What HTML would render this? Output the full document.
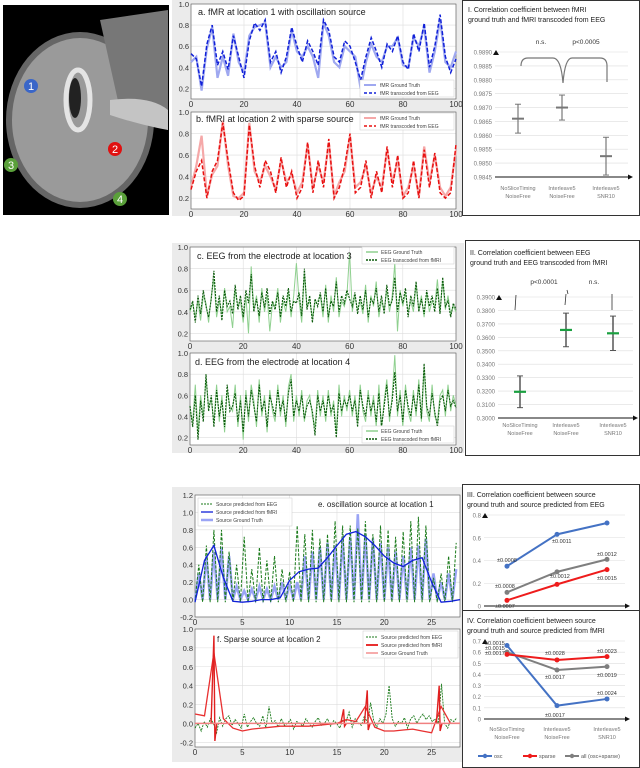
<!DOCTYPE html>
<html><head><meta charset="utf-8"><style>
body{margin:0;background:#fff;width:640px;height:768px;overflow:hidden}
svg{display:block;font-family:"Liberation Sans",sans-serif}
</style></head><body>
<svg id="c" width="640" height="768" viewBox="0 0 640 768">
<g>
<rect x="3" y="5" width="166" height="210" fill="#000"/>
<ellipse cx="80" cy="120" rx="74" ry="88" fill="#666"/>
<ellipse cx="80" cy="120" rx="68" ry="82" fill="#9a9a9a"/>
<path d="M100 20 L168 10 L168 130 L120 110 Z" fill="#777"/>
<path d="M110 100 Q150 95 168 110 L168 130 Q140 125 110 115Z" fill="#c4c4c4"/>
<ellipse cx="78" cy="100" rx="12" ry="30" fill="none" stroke="#e4e4e4" stroke-width="5"/>
<ellipse cx="75" cy="98" rx="6" ry="20" fill="#222"/>
<circle cx="31" cy="86" r="7" fill="#3a66c8"/>
<text x="31" y="90" fill="#fff" font-size="11" text-anchor="middle">1</text>
<circle cx="115" cy="149" r="7" fill="#e01010"/>
<text x="115" y="153" fill="#fff" font-size="11" text-anchor="middle">2</text>
<circle cx="11" cy="165" r="7" fill="#5aa03a"/>
<text x="11" y="169" fill="#fff" font-size="11" text-anchor="middle">3</text>
<circle cx="120" cy="199" r="7" fill="#5aa03a"/>
<text x="120" y="203" fill="#fff" font-size="11" text-anchor="middle">4</text>
</g>
<rect x="172" y="0" width="292" height="216" fill="#ebebeb"/>
<rect x="172" y="243" width="292" height="210" fill="#ebebeb"/>
<rect x="172" y="487" width="292" height="275" fill="#ebebeb"/>
<rect x="462.5" y="0.5" width="177" height="215" fill="#fff" stroke="#333"/>
<rect x="465.5" y="240.5" width="174" height="215" fill="#fff" stroke="#333"/>
<rect x="462.5" y="484.5" width="177" height="126" fill="#fff" stroke="#333"/>
<rect x="462.5" y="610.5" width="177" height="157" fill="#fff" stroke="#333"/>
<g id="g"></g>
</svg>
<script>
// ---- data ----
const fmriA_pred=[0.53,0.48,0.22,0.62,0.8,0.42,0.55,0.38,0.7,0.5,0.3,0.65,0.82,0.75,0.85,0.45,0.55,0.35,0.5,0.78,0.6,0.45,0.65,0.55,0.42,0.85,0.75,0.5,0.45,0.65,0.6,0.45,0.28,0.5,0.68,0.55,0.4,0.62,0.55,0.7,0.45,0.38,0.72,0.55,0.82,0.4,0.6,0.9,0.5,0.35,0.48];
const fmriA_true=[0.45,0.5,0.18,0.58,0.78,0.3,0.5,0.32,0.72,0.45,0.35,0.7,0.78,0.8,0.82,0.4,0.5,0.4,0.45,0.75,0.55,0.5,0.6,0.5,0.3,0.82,0.7,0.45,0.4,0.6,0.55,0.5,0.2,0.45,0.62,0.5,0.45,0.6,0.6,0.68,0.42,0.4,0.68,0.6,0.78,0.35,0.55,0.85,0.45,0.4,0.55];
const fmriB_pred=[0.28,0.45,0.55,0.2,0.45,0.55,0.9,0.55,0.25,0.18,0.22,0.88,0.5,0.3,0.55,0.45,0.25,0.58,0.3,0.45,0.2,0.3,0.72,0.25,0.55,0.3,0.75,0.2,0.3,0.5,0.8,0.25,0.3,0.55,0.2,0.45,0.25,0.68,0.3,0.6,0.2,0.25,0.55,0.2,0.65,0.3,0.62,0.25,0.2,0.25,0.7];
const fmriB_true=[0.3,0.5,0.78,0.22,0.42,0.5,0.92,0.5,0.22,0.2,0.25,0.9,0.45,0.35,0.5,0.4,0.28,0.55,0.35,0.42,0.25,0.35,0.7,0.3,0.5,0.35,0.72,0.22,0.35,0.45,0.78,0.3,0.35,0.5,0.25,0.4,0.3,0.65,0.35,0.55,0.22,0.3,0.5,0.22,0.68,0.35,0.6,0.3,0.22,0.3,0.65];
const eegC_pred=[0.42,0.5,0.3,0.55,0.38,0.6,0.45,0.35,0.52,0.78,0.4,0.55,0.32,0.6,0.45,0.5,0.38,0.65,0.42,0.55,0.35,0.6,0.48,0.75,0.4,0.52,0.36,0.58,0.44,0.62,0.38,0.5,0.42,0.58,0.35,0.55,0.45,0.62,0.4,0.5,0.48,0.58,0.36,0.8,0.42,0.55,0.3,0.52,0.45,0.58,0.4,0.62,0.35,0.5,0.45,0.68,0.4,0.55,0.48,0.6,0.52,0.45,0.58,0.38,0.55,0.42,0.6,0.35,0.52,0.48,0.62,0.4,0.55,0.38,0.65,0.45,0.5,0.72,0.4,0.58,0.48,0.62,0.35,0.55,0.45,0.68,0.4,0.52,0.38,0.6,0.45,0.55,0.4,0.62,0.38,0.72,0.45,0.5,0.35,0.48,0.42];
const eegC_true=[0.4,0.48,0.35,0.5,0.32,0.55,0.48,0.3,0.55,0.7,0.35,0.5,0.38,0.62,0.4,0.45,0.25,0.6,0.45,0.5,0.3,0.55,0.2,0.82,0.42,0.55,0.3,0.62,0.4,0.55,0.22,0.48,0.45,0.62,0.3,0.5,0.4,0.58,0.35,0.55,0.85,0.5,0.3,0.75,0.45,0.5,0.35,0.48,0.5,0.55,0.35,0.65,0.3,0.55,0.4,0.72,0.35,0.5,0.45,0.55,0.95,0.4,0.55,0.42,0.5,0.38,0.65,0.3,0.55,0.45,0.68,0.35,0.5,0.42,0.6,0.4,0.55,0.85,0.22,0.6,0.45,0.58,0.4,0.5,0.4,0.65,0.42,0.55,0.35,0.58,0.4,0.5,0.45,0.7,0.4,0.68,0.42,0.55,0.38,0.45,0.4];
const eegD_pred=[0.5,0.3,0.6,0.18,0.55,0.35,0.8,0.45,0.6,0.3,0.65,0.4,0.55,0.3,0.7,0.45,0.5,0.62,0.35,0.55,0.25,0.6,0.4,0.65,0.5,0.35,0.7,0.45,0.55,0.3,0.6,0.5,0.4,0.65,0.45,0.55,0.35,0.62,0.75,0.4,0.55,0.45,0.6,0.38,0.5,0.55,0.45,0.22,0.6,0.45,0.55,0.4,0.6,0.45,0.5,0.2,0.62,0.45,0.55,0.5,0.6,0.45,0.55,0.3,0.65,0.5,0.4,0.6,0.45,0.55,0.35,0.62,0.3,0.5,0.7,0.4,0.55,0.82,0.45,0.6,0.35,0.65,0.5,0.4,0.6,0.45,0.7,0.38,0.9,0.5,0.4,0.62,0.45,0.3,0.55,0.6,0.45,0.65,0.5,0.55,0.48];
const eegD_true=[0.45,0.35,0.7,0.25,0.6,0.4,0.75,0.5,0.55,0.35,0.7,0.35,0.6,0.25,0.65,0.5,0.45,0.7,0.3,0.6,0.18,0.65,0.35,0.7,0.55,0.3,0.75,0.4,0.6,0.25,0.65,0.45,0.35,0.7,0.4,0.6,0.3,0.68,0.8,0.35,0.6,0.4,0.65,0.35,0.55,0.6,0.4,0.3,0.65,0.4,0.6,0.35,0.65,0.4,0.55,0.25,0.7,0.4,0.6,0.45,0.65,0.4,0.6,0.35,0.7,0.45,0.35,0.65,0.4,0.6,0.3,0.7,0.28,0.55,0.75,0.35,0.6,0.98,0.4,0.65,0.3,0.7,0.45,0.35,0.65,0.4,0.75,0.35,0.85,0.45,0.35,0.7,0.4,0.35,0.6,0.65,0.4,0.7,0.45,0.6,0.5];
const srcE_truePeaks=[0.3,0.5,0.55,0.6,0.5,0.15,0.1,0.12,0.15,0.12,0.15,0.2,0.18,0.2,0.5,0.55,0.6,0.65,0.62,0.7,0.72,0.98,0.75,0.7,0.65,0.6,0.55,0.5,0.6,0.62,0.7,0.3,0.2,0.3,0.35];
const srcE_eegPeaks=[0.4,0.62,0.8,0.8,0.55,0.4,0.72,0.35,0.6,0.45,0.5,0.35,0.32,0.85,0.75,0.8,0.7,0.75,0.9,0.85,0.85,0.82,0.9,0.75,0.85,0.8,0.72,0.78,0.9,0.95,0.85,0.25,0.3,0.5,0.65];
const srcE_fmri=[-0.03,0.45,0.62,0.25,-0.02,-0.03,-0.02,0.0,0.0,0.02,0.22,0.32,0.35,0.36,0.48,0.62,0.75,0.78,0.72,0.62,0.5,0.42,0.38,0.45,0.48,0.2,-0.03,-0.02,0.0];
const srcF_spikeX=[2.0,15.7,18.2,25.8];
const srcF_spikeV=[0.93,0.15,0.35,0.4];
const srcF_fmri=[0.1,0.08,0.75,0.05,-0.05,-0.08,-0.06,-0.05,-0.04,-0.03,-0.03,-0.03,-0.03,-0.02,-0.01,0.0,0.04,0.02,0.18,-0.04,-0.08,-0.08,-0.07,-0.06,-0.08,-0.1,0.18,0.0,0.0];
const srcF_eeg=[-0.05,0.0,-0.08,0.02,-0.04,0.05,0.0,-0.1,0.06,-0.03,0.05,0.08,-0.02,0.04,0.0,-0.05,0.1,-0.04,0.02,0.06,0.0,-0.03,0.08,-0.05,0.18,0.0,0.03,-0.04,0.05,-0.02,0.0,0.04,-0.06,0.02,0.0,-0.03,0.05,0.0,-0.04,0.02,0.06,-0.02,0.0,0.05,-0.03,0.03,0.0,-0.05,0.04,0.02,0.12,-0.04,0.05,0.0,-0.02,0.08,0.0,0.22,0.03,-0.04,0.05,0.0,0.1,0.4,0.05,-0.03,0.02,0.0,0.06,-0.05,0.05,0.08,0.0,0.06,0.1,0.04,0.08,0.02,0.05,0.0,0.42,0.0,-0.05,0.04,0.02,0.06];
const catLabels1=["NoSliceTiming","Interleave5","Interleave5"];
const catLabels2=["NoiseFree","NoiseFree","SNR10"];
const p1Mean=[0.9866,0.9870,0.98525], p1Err=[0.00052,0.00045,0.00068];
const p1Ticks=[0.9845,0.985,0.9855,0.986,0.9865,0.987,0.9875,0.988,0.9885,0.989];
const p2Mean=[0.3195,0.3655,0.3630], p2Err=[0.0118,0.0125,0.0128];
const p2Ticks=[0.30,0.31,0.32,0.33,0.34,0.35,0.36,0.37,0.38,0.39];
const p3Osc=[0.35,0.63,0.73], p3Sparse=[0.05,0.19,0.32], p3All=[0.12,0.30,0.41];
const p3Ticks=[0,0.2,0.4,0.6,0.8];
const p4Osc=[0.66,0.12,0.18], p4Sparse=[0.58,0.53,0.56], p4All=[0.60,0.44,0.47];
const p4Ticks=[0,0.1,0.2,0.3,0.4,0.5,0.6,0.7];

// ---- helpers ----
const NS="http://www.w3.org/2000/svg", G=document.getElementById('g');
function el(t,a,p){const e=document.createElementNS(NS,t);for(const k in a)e.setAttribute(k,a[k]);(p||G).appendChild(e);return e;}
function txt(x,y,s,sz,fill,anchor,name){const e=el('text',{x:x,y:y,'font-size':sz,fill:fill||'#222','text-anchor':anchor||'start'});e.textContent=s;

return e;}
function lin(d0,d1,r0,r1){return v=>r0+(v-d0)/(d1-d0)*(r1-r0);}
function poly(xs,ys,sx,sy,attrs,name){const e=el('polyline',Object.assign({points:xs.map((x,i)=>sx(x).toFixed(1)+','+sy(ys[i]).toFixed(1)).join(' '),fill:'none'},attrs));

return e;}
function mplAxes(x0,x1,y0,y1,xd,yd,xt,yt,name){
  el('rect',{x:x0,y:y0,width:x1-x0,height:y1-y0,fill:'#fff'});
  const sx=lin(xd[0],xd[1],x0,x1), sy=lin(yd[0],yd[1],y1,y0);
  xt.forEach(t=>{el('line',{x1:sx(t),x2:sx(t),y1:y0,y2:y1,stroke:'#ddd','stroke-width':0.6});txt(sx(t),y1+8,String(t),8,'#333','middle','x-tick');});
  yt.forEach(t=>{el('line',{x1:x0,x2:x1,y1:sy(t),y2:sy(t),stroke:'#ddd','stroke-width':0.6});txt(x0-2,sy(t)+3,t.toFixed(1),7.5,'#333','end','y-tick');});
  const r=el('rect',{x:x0,y:y0,width:x1-x0,height:y1-y0,fill:'none',stroke:'#555','stroke-width':0.6});
  
  
  return {sx,sy};
}
const rng=(n,step)=>Array.from({length:n},(_,i)=>i*step);

// ---- panel a ----
let A=mplAxes(191,456,4,99,[0,100],[0.1,1.0],[0,20,40,60,80,100],[0.2,0.4,0.6,0.8,1.0],'panel-a-axes');
poly(rng(fmriA_true.length,2),fmriA_true,A.sx,A.sy,{stroke:'#9fa8f0','stroke-width':2.2},'fmri-a-ground-truth');
poly(rng(fmriA_pred.length,2),fmriA_pred,A.sx,A.sy,{stroke:'#1020d8','stroke-width':1.5,'stroke-dasharray':'4 2'},'fmri-a-transcoded');
txt(198,15,'a. fMR  at location  1 with oscillation source',9,'#222','start','panel-a-title');
el('rect',{x:360,y:80,width:94,height:17,fill:'#fff',stroke:'#ccc','stroke-width':0.5});
el('line',{x1:364,x2:376,y1:85,y2:85,stroke:'#9fa8f0','stroke-width':2});txt(380,87,'fMR  Ground Truth',5,'#444','start','legend-entry');
el('line',{x1:364,x2:376,y1:93,y2:93,stroke:'#1020d8','stroke-width':1.5,'stroke-dasharray':'3 2'});txt(380,95,'fMR  transcoded from EEG',5,'#444','start','legend-entry');

// ---- panel b ----
let B=mplAxes(191,456,112,209,[0,100],[0.1,1.0],[0,20,40,60,80,100],[0.2,0.4,0.6,0.8,1.0],'panel-b-axes');
poly(rng(fmriB_true.length,2),fmriB_true,B.sx,B.sy,{stroke:'#f5a8a8','stroke-width':2.2},'fmri-b-ground-truth');
poly(rng(fmriB_pred.length,2),fmriB_pred,B.sx,B.sy,{stroke:'#e81010','stroke-width':1.5,'stroke-dasharray':'4 2'},'fmri-b-transcoded');
txt(196,122,'b. fMRI at location 2 with sparse source',9,'#222','start','panel-b-title');
el('rect',{x:360,y:113,width:94,height:17,fill:'#fff',stroke:'#ccc','stroke-width':0.5});
el('line',{x1:364,x2:376,y1:118,y2:118,stroke:'#f5a8a8','stroke-width':2});txt(380,120,'fMR  Ground Truth',5,'#444','start','legend-entry');
el('line',{x1:364,x2:376,y1:126,y2:126,stroke:'#e81010','stroke-width':1.5,'stroke-dasharray':'3 2'});txt(380,128,'fMR  transcoded from EEG',5,'#444','start','legend-entry');

// ---- panel c,d ----
let C=mplAxes(190,456,247,341,[0,100],[0.13,1.0],[0,20,40,60,80,100],[0.2,0.4,0.6,0.8,1.0],'panel-c-axes');
poly(rng(eegC_true.length,1),eegC_true,C.sx,C.sy,{stroke:'#8fd08f','stroke-width':1},'eeg-c-ground-truth');
poly(rng(eegC_pred.length,1),eegC_pred,C.sx,C.sy,{stroke:'#0a5a0a','stroke-width':1.1,'stroke-dasharray':'2 1'},'eeg-c-transcoded');
txt(197,259,'c. EEG from the electrode at location 3',9,'#222','start','panel-c-title');
el('rect',{x:362,y:247,width:92,height:17,fill:'#fff',stroke:'#ccc','stroke-width':0.5});
el('line',{x1:366,x2:378,y1:252,y2:252,stroke:'#8fd08f','stroke-width':1.5});txt(381,254,'EEG Ground Truth',5,'#444','start','legend-entry');
el('line',{x1:366,x2:378,y1:260,y2:260,stroke:'#0a5a0a','stroke-width':1.5,'stroke-dasharray':'2 1'});txt(381,262,'EEG transcoded from fMRI',5,'#444','start','legend-entry');
let D=mplAxes(190,456,353,445,[0,100],[0.13,1.0],[0,20,40,60,80,100],[0.2,0.4,0.6,0.8,1.0],'panel-d-axes');
poly(rng(eegD_true.length,1),eegD_true,D.sx,D.sy,{stroke:'#8fd08f','stroke-width':1},'eeg-d-ground-truth');
poly(rng(eegD_pred.length,1),eegD_pred,D.sx,D.sy,{stroke:'#0a5a0a','stroke-width':1.1,'stroke-dasharray':'2 1'},'eeg-d-transcoded');
txt(195,365,'d. EEG from the electrode at  location 4',9,'#222','start','panel-d-title');
el('rect',{x:362,y:426,width:92,height:17,fill:'#fff',stroke:'#ccc','stroke-width':0.5});
el('line',{x1:366,x2:378,y1:431,y2:431,stroke:'#8fd08f','stroke-width':1.5});txt(381,433,'EEG Ground Truth',5,'#444','start','legend-entry');
el('line',{x1:366,x2:378,y1:439,y2:439,stroke:'#0a5a0a','stroke-width':1.5,'stroke-dasharray':'2 1'});txt(381,441,'EEG transcoded from fMRI',5,'#444','start','legend-entry');

// ---- panel e ----
let E=mplAxes(195,460,495,617,[0,28],[-0.2,1.2],[0,5,10,15,20,25],[-0.2,0.0,0.2,0.4,0.6,0.8,1.0,1.2],'panel-e-axes');
function spikeSeries(peaks,base){const xs=[],ys=[];peaks.forEach((p,i)=>{xs.push(i*0.8);ys.push(base);xs.push(i*0.8+0.4);ys.push(p);});return [xs,ys];}
let se=spikeSeries(srcE_truePeaks,0);
poly(se[0],se[1],E.sx,E.sy,{stroke:'#9aa4f5','stroke-width':2.5},'source-e-ground-truth');
let sp=spikeSeries(srcE_eegPeaks,-0.03);
poly(sp[0],sp[1],E.sx,E.sy,{stroke:'#1a7a1a','stroke-width':1,'stroke-dasharray':'3 1.5'},'source-e-eeg-predicted');
poly(rng(srcE_fmri.length,1),srcE_fmri,E.sx,E.sy,{stroke:'#1020d8','stroke-width':1.3},'source-e-fmri-predicted');
el('rect',{x:198,y:498,width:94,height:28,fill:'#fff','fill-opacity':0.9,stroke:'#ccc','stroke-width':0.5});
el('line',{x1:201,x2:213,y1:504,y2:504,stroke:'#1a7a1a','stroke-width':1,'stroke-dasharray':'2 1'});txt(216,506,'Source predicted from EEG',5,'#444','start','legend-entry');
el('line',{x1:201,x2:213,y1:512,y2:512,stroke:'#1020d8','stroke-width':1.3});txt(216,514,'Source predicted from fMRI',5,'#444','start','legend-entry');
el('line',{x1:201,x2:213,y1:520,y2:520,stroke:'#9aa4f5','stroke-width':2.5});txt(216,522,'Source Ground Truth',5,'#444','start','legend-entry');
txt(318,507,'e. oscillation source at location 1',8,'#222','start','panel-e-title');

// ---- panel f ----
let F=mplAxes(195,460,629,747,[0,28],[-0.25,1.0],[0,5,10,15,20,25],[-0.2,0.0,0.2,0.4,0.6,0.8,1.0],'panel-f-axes');
poly(rng(srcF_eeg.length,28/srcF_eeg.length),srcF_eeg,F.sx,F.sy,{stroke:'#1a7a1a','stroke-width':0.9,'stroke-dasharray':'2 1'},'source-f-eeg-predicted');
poly(rng(srcF_fmri.length,1),srcF_fmri,F.sx,F.sy,{stroke:'#e83030','stroke-width':1.3},'source-f-fmri-predicted');
srcF_spikeX.forEach((x,i)=>{const l=el('polyline',{points:[[x-0.3,0],[x,srcF_spikeV[i]],[x+0.1,-0.2*srcF_spikeV[i]],[x+0.3,0]].map(p=>F.sx(p[0])+','+F.sy(p[1])).join(' '),fill:'none',stroke:'#e02020','stroke-width':1.4});

});
el('line',{x1:F.sx(0),x2:F.sx(28),y1:F.sy(0),y2:F.sy(0),stroke:'#f08080','stroke-width':1.5});
txt(217,642,'f. Sparse source at location 2',8,'#222','start','panel-f-title');
el('rect',{x:363,y:631,width:95,height:27,fill:'#fff',stroke:'#ccc','stroke-width':0.5});
el('line',{x1:366,x2:378,y1:637,y2:637,stroke:'#1a7a1a','stroke-width':1,'stroke-dasharray':'2 1'});txt(381,639,'Source predicted from EEG',5,'#444','start','legend-entry');
el('line',{x1:366,x2:378,y1:645,y2:645,stroke:'#e83030','stroke-width':2});txt(381,647,'Source predicted from fMRI',5,'#444','start','legend-entry');
el('line',{x1:366,x2:378,y1:653,y2:653,stroke:'#f08080','stroke-width':1.3});txt(381,655,'Source Ground Truth',5,'#444','start','legend-entry');

// ---- category axes ----
function catAxes(ax0,ax1,cx,ytop,ybot,d0,d1,ticks,fmt,lblY){
  const sy=lin(d0,d1,ybot,ytop);
  ticks.forEach(t=>{el('line',{x1:ax0,x2:ax1,y1:sy(t),y2:sy(t),stroke:'#ddd','stroke-width':0.6});txt(ax0-3,sy(t)+2.5,fmt(t),6,'#777','end','y-tick');});
  el('line',{x1:ax0,x2:ax1,y1:ybot,y2:ybot,stroke:'#111','stroke-width':1});
  el('path',{d:`M${ax1} ${ybot-2.5}L${ax1+5} ${ybot}L${ax1} ${ybot+2.5}Z`,fill:'#111'});
  el('path',{d:`M${ax0-2} ${ytop+3}L${ax0+1} ${ytop-2}L${ax0+4} ${ytop+3}Z`,fill:'#111'});
  if(lblY) cx.forEach((x,i)=>{txt(x,lblY,catLabels1[i],5.5,'#777','middle','x-category');txt(x,lblY+8,catLabels2[i],5.5,'#777','middle','x-category');});
  return sy;
}
// ---- panel I ----
txt(468,12,'I. Correlation coefficient between fMRI',7,'#222','start','panel-i-title');
txt(468,22,'ground truth and fMRI transcoded from EEG',7,'#222','start','panel-i-title');
const c1=[518,562,606];
let s1=catAxes(495,628,c1,52,177,0.9845,0.989,p1Ticks,t=>t.toFixed(4),190);
p1Mean.forEach((m,i)=>{el('line',{x1:c1[i],x2:c1[i],y1:s1(m+p1Err[i]),y2:s1(m-p1Err[i]),stroke:'#777','stroke-width':1.2});
[1,-1].forEach(sg=>el('line',{x1:c1[i]-3,x2:c1[i]+3,y1:s1(m+sg*p1Err[i]),y2:s1(m+sg*p1Err[i]),stroke:'#777'}));
const b=el('line',{x1:c1[i]-6,x2:c1[i]+6,y1:s1(m),y2:s1(m),stroke:'#777','stroke-width':2});

});
el('path',{d:'M521 66 Q521 58 528 58 L553 58 Q561 58 563 83 Q565 58 572 58 L600 58 Q607 58 607 66 L607 82',fill:'none',stroke:'#777','stroke-width':1.2});
txt(541,44,'n.s.',6.5,'#333','middle','significance-ns');txt(586,44,'p<0.0005',6.5,'#333','middle','significance-p');

// ---- panel II ----
txt(470,255,'II. Correlation coefficient between EEG',7,'#222','start','panel-ii-title');
txt(470,265,'ground truth and EEG transcoded from fMRI',7,'#222','start','panel-ii-title');
const c2=[520,566,613];
let s2=catAxes(498,633,c2,297,418,0.30,0.39,p2Ticks,t=>t.toFixed(4),427);
p2Mean.forEach((m,i)=>{el('line',{x1:c2[i],x2:c2[i],y1:s2(m+p2Err[i]),y2:s2(m-p2Err[i]),stroke:'#555','stroke-width':1.5});
[1,-1].forEach(sg=>el('line',{x1:c2[i]-3,x2:c2[i]+3,y1:s2(m+sg*p2Err[i]),y2:s2(m+sg*p2Err[i]),stroke:'#555'}));
const b=el('line',{x1:c2[i]-6,x2:c2[i]+6,y1:s2(m),y2:s2(m),stroke:'#1aa040','stroke-width':2.2});

});
el('path',{d:'M515 310 L516 295 M565 305 L566 294 M568 294 L567 290 M612 310 L612 294',fill:'none',stroke:'#333','stroke-width':0.8});
txt(544,284,'p<0.0001',6.5,'#333','middle','significance-p');txt(594,284,'n.s.',6.5,'#333','middle','significance-ns');

// ---- panel III ----
txt(467,497,'III. Correlation coefficient between source',7,'#222','start','panel-iii-title');
txt(467,507,'ground truth and source predicted from EEG',7,'#222','start','panel-iii-title');
const c3=[507,557,607];
let s3=catAxes(484,625,c3,515,606,0,0.8,p3Ticks,t=>String(t),null);
function series(vals,sy,col,name){const e=el('polyline',{points:vals.map((v,i)=>c3[i]+','+sy(v)).join(' '),fill:'none',stroke:col,'stroke-width':2});


vals.forEach((v,i)=>el('circle',{cx:c3[i],cy:sy(v),r:2.5,fill:col}));}
series(p3Osc,s3,'#4472c4','panel-iii-osc-line');series(p3All,s3,'#7f7f7f','panel-iii-all-line');series(p3Sparse,s3,'#ee1c1c','panel-iii-sparse-line');
[['±0.0008',497,562],['±0.0011',552,543],['±0.0012',597,556],['±0.0012',550,578],['±0.0015',597,580],['±0.0008',495,588],['±0.0007',495,608]].forEach(a=>txt(a[1],a[2],a[0],5.5,'#333','start','error-annotation'));

// ---- panel IV ----
txt(467,623,'IV. Correlation coefficient between source',7,'#222','start','panel-iv-title');
txt(467,633,'ground truth and source predicted from fMRI',7,'#222','start','panel-iv-title');
let s4=catAxes(484,625,c3,641,719,0,0.7,p4Ticks,t=>String(t),731);
series(p4Osc,s4,'#4472c4','panel-iv-osc-line');series(p4All,s4,'#7f7f7f','panel-iv-all-line');series(p4Sparse,s4,'#ee1c1c','panel-iv-sparse-line');
[['±0.0015',485,645],['±0.0015',485,650],['±0.0017',485,655],['±0.0028',545,655],['±0.0023',597,653],['±0.0017',545,679],['±0.0019',597,677],['±0.0024',597,695],['±0.0017',545,717]].forEach(a=>txt(a[1],a[2],a[0],5.5,'#333','start','error-annotation'));
[['osc','#4472c4',478],['sparse','#ee1c1c',523],['all (osc+sparse)','#7f7f7f',565]].forEach(l=>{el('line',{x1:l[2],x2:l[2]+14,y1:756,y2:756,stroke:l[1],'stroke-width':2});el('circle',{cx:l[2]+7,cy:756,r:2.2,fill:l[1]});txt(l[2]+16,758,l[0],5.5,'#555','start','legend-entry');});
</script>
</body></html>
